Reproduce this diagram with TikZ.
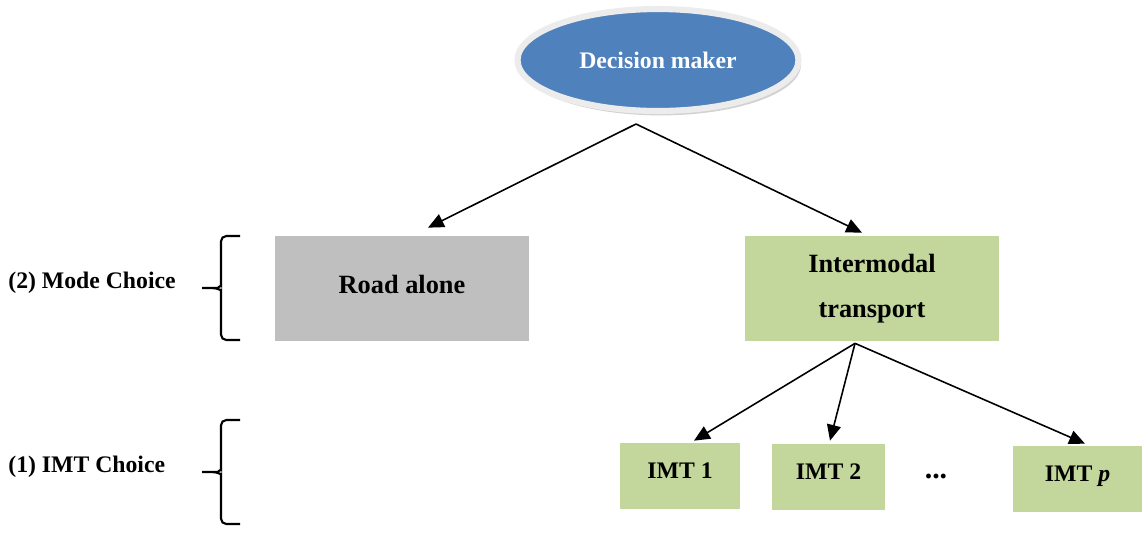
\documentclass[tikz,border=0pt]{standalone}
\usepackage{fontspec}
\setmainfont{Liberation Serif}
\usetikzlibrary{arrows.meta,shapes.geometric,shadows}
\definecolor{dmblue}{RGB}{79,129,189}
\definecolor{roadgray}{RGB}{191,191,191}
\definecolor{imtgreen}{RGB}{195,214,155}
\definecolor{ringgray}{RGB}{236,236,236}

\begin{document}
\begin{tikzpicture}[x=0.02cm, y=-0.02cm,
    modebox/.style={rectangle, inner sep=0pt, minimum width=5.08cm, minimum height=2.1cm, align=center, font=\fontsize{15}{26}\selectfont\bfseries},
    imtbox/.style={rectangle, fill=imtgreen, inner sep=0pt, minimum height=1.32cm, text height=9pt, text depth=6.4pt, font=\fontsize{13.5}{16}\selectfont\bfseries},
    arr/.style={-{Triangle[length=9pt,width=8pt]}, line width=0.9pt},
    brc/.style={line width=1.2pt, rounded corners=3pt},
    lvl/.style={anchor=west, inner sep=0pt, font=\fontsize{13.5}{16}\selectfont\bfseries}]
            \useasboundingbox (0,0) rectangle (1142,532);

            % Decision maker
            \node[ellipse, fill=dmblue, draw=ringgray, line width=3.5pt, minimum width=5.62cm, minimum height=2.04cm,
                  drop shadow={shadow xshift=1.5pt, shadow yshift=-2.5pt, fill=black!35},
                  text=white, font=\fontsize{13.5}{16}\selectfont\bfseries] (dm) at (658,60) {Decision maker};

            % (2) Mode choice
            \node[modebox, fill=roadgray, text depth=4.6pt] (road) at (402,288.5) {Road alone};
            \node[modebox, fill=imtgreen] (inter) at (872,288.5) {Intermodal\\transport};

            % (1) IMT choice
            \node[imtbox, minimum width=2.42cm] (imt1) at (680,476) {IMT 1};
            \node[imtbox, minimum width=2.26cm] (imt2) at (828.5,477) {IMT 2};
            \node[font=\fontsize{17}{20}\selectfont\bfseries] (dots) at (936,476) {...};
            \node[imtbox, minimum width=2.58cm] (imtp) at (1077.5,479) {IMT \textit{p}};

            % Arrows
            \coordinate (dm-out) at (636,124);
            \draw[arr] (dm-out) -- ([xshift=0.52cm,yshift=0.16cm]road.north);
            \draw[arr] (dm-out) -- ([xshift=-0.2cm,yshift=0.06cm]inter.north);

            \coordinate (inter-out) at ([xshift=-0.34cm,yshift=-0.04cm]inter.south);
            \draw[arr] (inter-out) -- ([xshift=0.28cm,yshift=0.04cm]imt1.north);
            \draw[arr] (inter-out) -- ([xshift=0.03cm,yshift=0.06cm]imt2.north);
            \draw[arr] (inter-out) -- ([xshift=0.15cm,yshift=0.04cm]imtp.north);

            % Levels
            \node[lvl] (mode) at (8,283) {(2) Mode Choice};
            \node[lvl] (imtlvl) at (8,467) {(1) IMT Choice};
            \draw[brc] (240,236) -- (221,236) -- (221,281) to[out=-90,in=0] (213,288) -- (202,288);
            \draw[brc] (213,288) to[out=0,in=90] (221,295) -- (221,340) -- (240,340);
            \draw[brc] (240,420) -- (221,420) -- (221,465) to[out=-90,in=0] (213,472) -- (202,472);
            \draw[brc] (213,472) to[out=0,in=90] (221,479) -- (221,524) -- (240,524);
\end{tikzpicture}
\end{document}
